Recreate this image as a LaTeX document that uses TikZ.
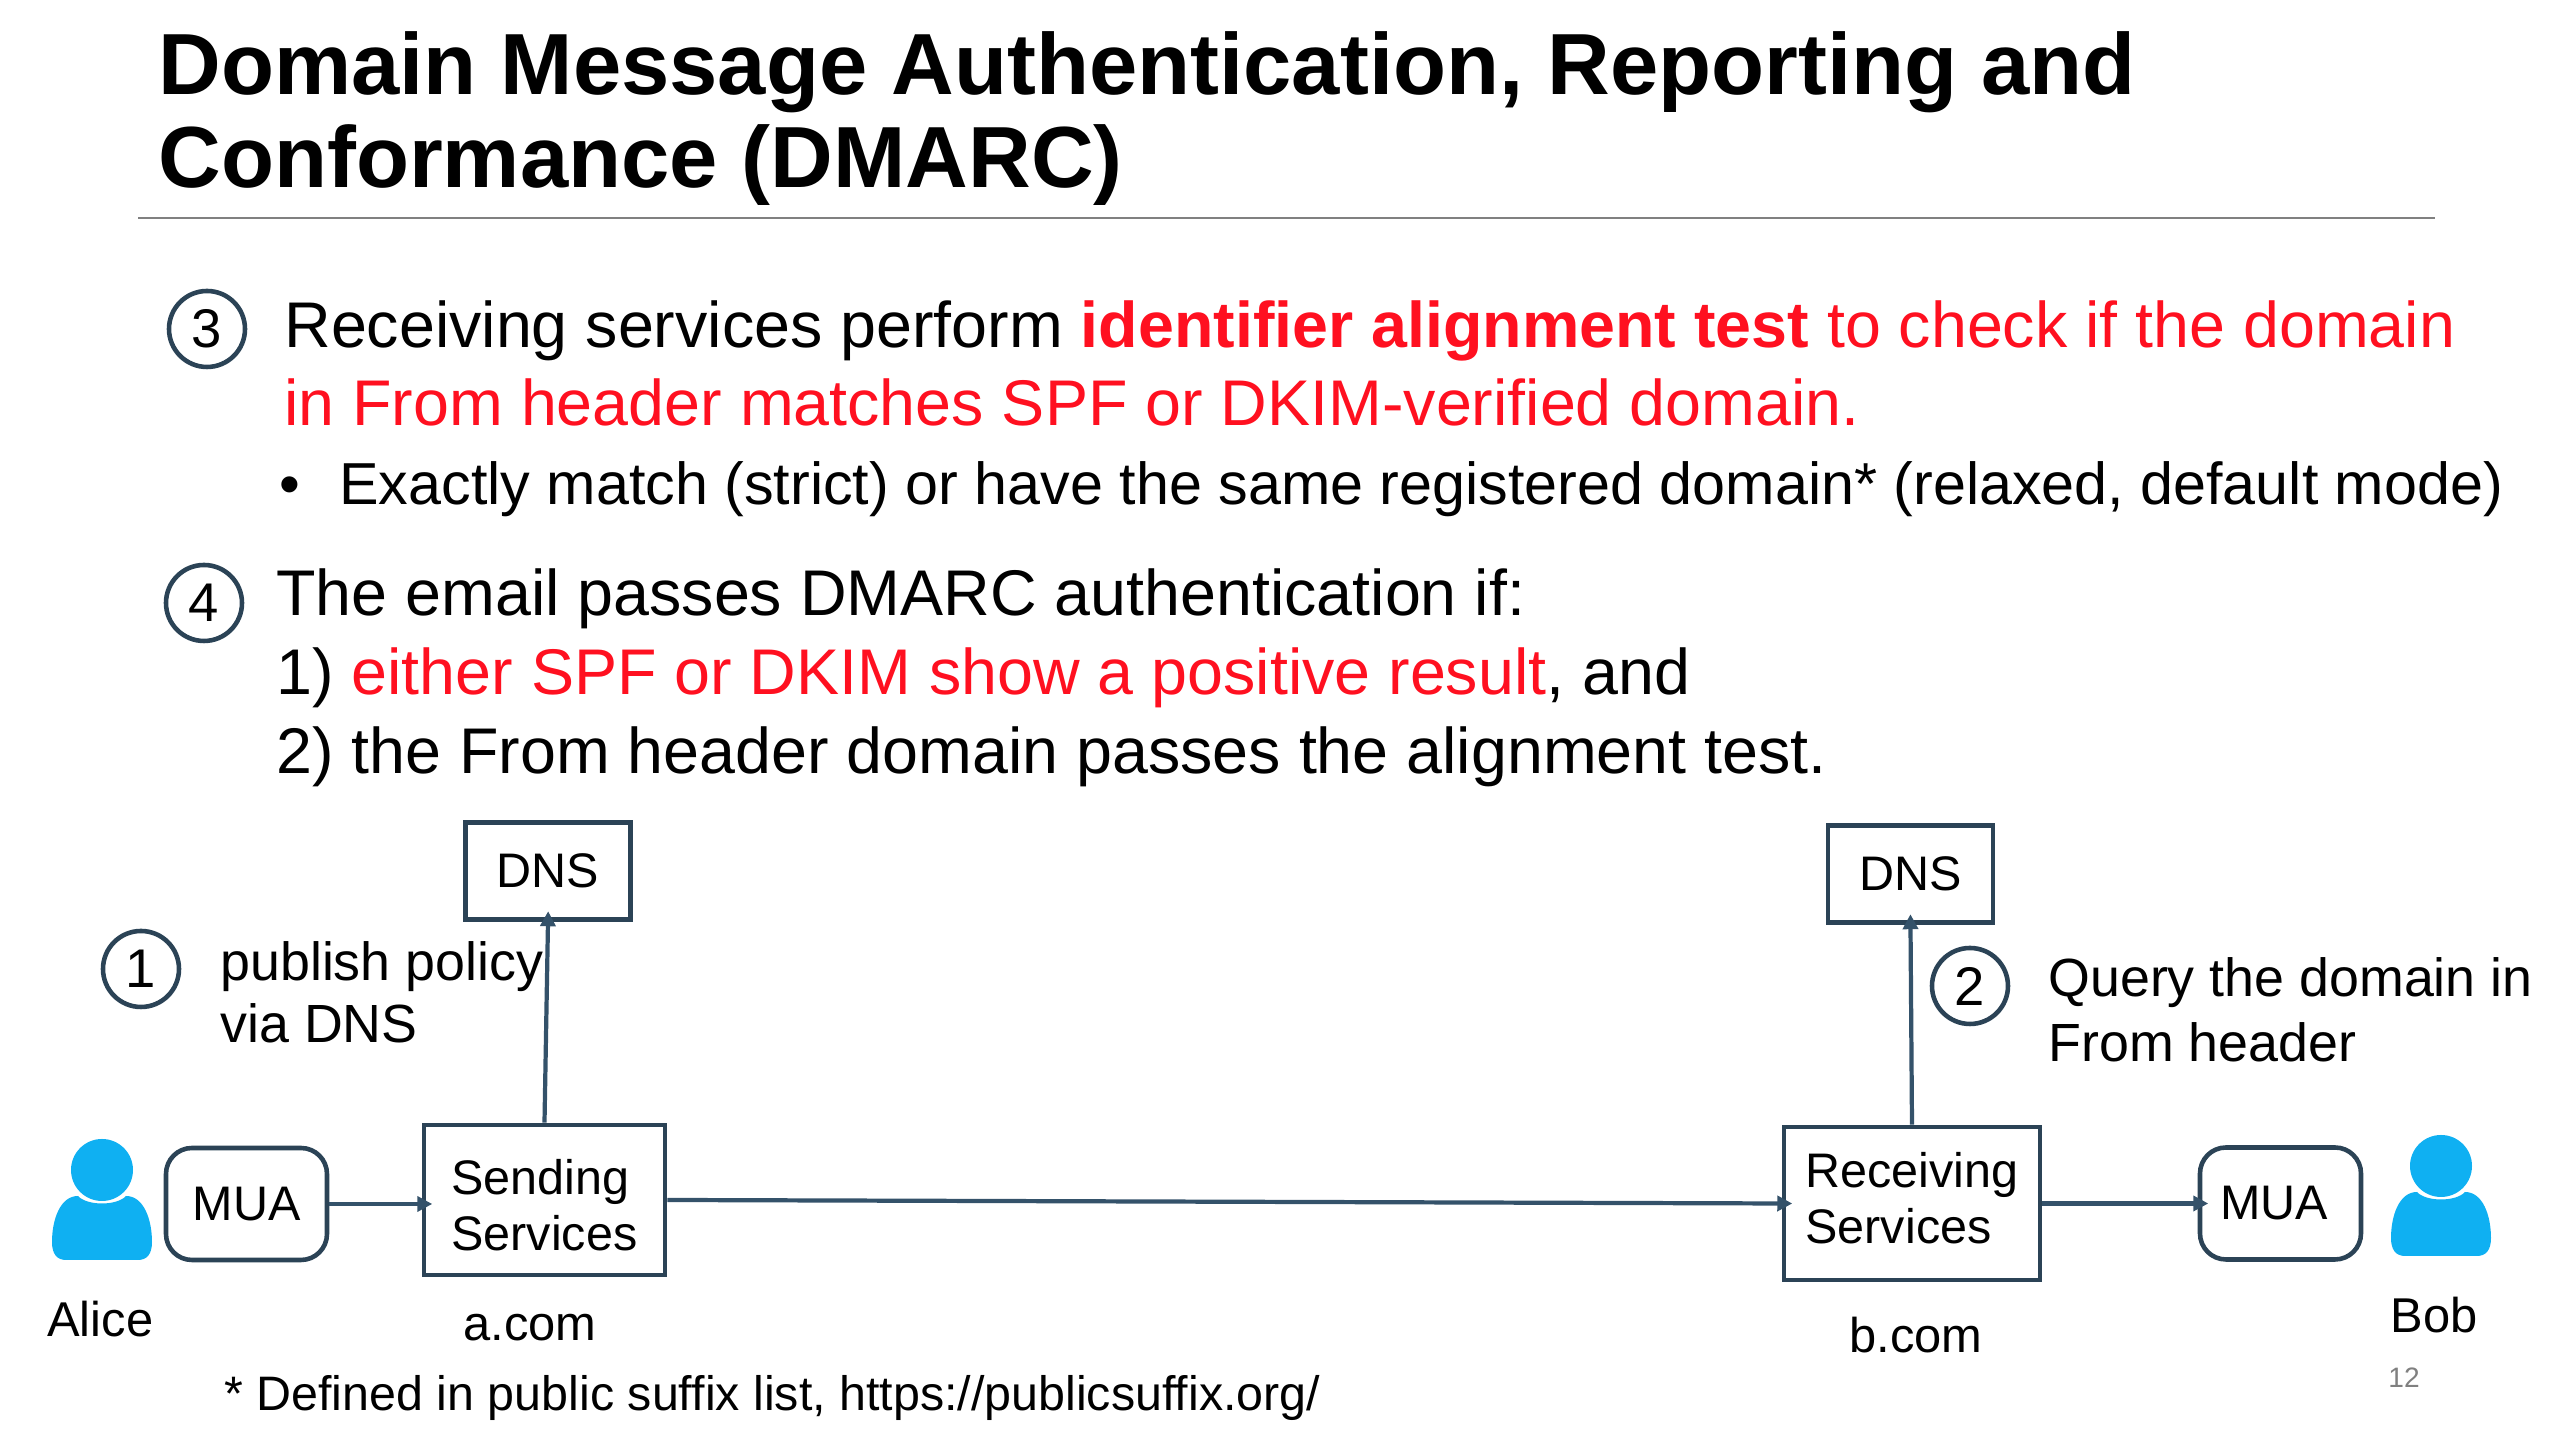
\documentclass[tikz,border=0pt]{standalone}
\usepackage{fontspec}
\setmainfont{Liberation Sans}
\usepackage{tikz}
\usetikzlibrary{arrows.meta}
\definecolor{line-blue}{HTML}{2B4356}
\definecolor{arrow-blue}{HTML}{34526A}
\definecolor{alert-red}{HTML}{FF1020}
\definecolor{person-blue}{HTML}{0FB0F2}
\definecolor{rule-gray}{HTML}{808080}
\tikzset{
every picture/.style={line width=0.8pt, >={Triangle[length=1.5mm,width=1.5mm]}},
%%%%%%%%%%  Node styles
title_text/.style={anchor=base west, inner sep=0pt, font=\fontsize{24.7}{28}\selectfont\bfseries},
body_text/.style={anchor=base west, inner sep=0pt, font=\fontsize{18.37}{22}\selectfont},
bullet_text/.style={anchor=base west, inner sep=0pt, font=\fontsize{16.86}{20}\selectfont},
small_text/.style={anchor=base west, inner sep=0pt, font=\fontsize{15.3}{18}\selectfont},
label_text/.style={anchor=base west, inner sep=0pt, font=\fontsize{13.9}{16}\selectfont},
step_circle/.style={circle, draw=line-blue, line width=1.3pt, fill=white, minimum size=0.76cm,
                    inner sep=0pt, font=\fontsize{15.5}{18}\selectfont},
%%%% boxes of the mail path
service_box/.style={rectangle, draw=line-blue, line width=1.3pt, align=left, inner sep=0pt,
                    font=\fontsize{13.8}{16}\selectfont},
mua_box/.style={service_box, rounded corners=2.6mm, minimum width=1.61cm, minimum height=1.12cm},
dns_box/.style={service_box, minimum width=1.65cm, minimum height=0.97cm},
%%%% connectors
flow/.style={->, draw=arrow-blue, line width=1.2pt, shorten >=-3pt},
person/.style={fill=person-blue, draw=none},
}
\begin{document}
\begin{tikzpicture}
\useasboundingbox (0,0) rectangle (25.56,14.38);
%% title
\node[title_text] (title1) at (1.57,13.43) {Domain Message Authentication, Reporting and};
\node[title_text] (title2) at (1.57,12.50) {Conformance (DMARC)};
\coordinate (ruleL) at (1.38,12.20);
\coordinate (ruleR) at (24.35,12.20);
\draw[rule-gray, line width=0.8pt] (ruleL) -- (ruleR);
%% step 3
\node[step_circle] (s3) at (2.07,11.09) {3};
\node[body_text] (t3a) at (2.83,10.90) {Receiving services perform \textcolor{alert-red}{\textbf{identifier alignment test} to check if the domain}};
\node[body_text, text=alert-red] (t3b) at (2.83,10.12) {in From header matches SPF or DKIM-verified domain.};
\node[bullet_text] (t3c) at (2.78,9.33) {•};
\node[bullet_text] (t3d) at (3.38,9.33) {Exactly match (strict) or have the same registered domain* (relaxed, default mode)};
%% step 4
\node[step_circle] (s4) at (2.04,8.35) {4};
\node[body_text] (t4a) at (2.75,8.22) {The email passes DMARC authentication if:};
\node[body_text] (t4b) at (2.75,7.43) {1) \textcolor{alert-red}{either SPF or DKIM show a positive result}, and};
\node[body_text] (t4c) at (2.75,6.64) {2) the From header domain passes the alignment test.};
%%%%%%%%%%%%%%%%%%%%%%%%%%%%%%%%%%%%%%%%%%%%%%%%%%%%%%%
%% sender side
\node[dns_box] (dnsA) at (5.48,5.67) {DNS};
\node[service_box, minimum width=2.41cm, minimum height=1.50cm] (sending) at (5.445,2.38) {\rule{0pt}{13pt}Sending\\Services};
\node[mua_box] (muaA) at (2.465,2.34) {MUA};
\node[step_circle] (s1) at (1.41,4.69) {1};
\node[small_text] (t1a) at (2.19,4.57) {publish policy};
\node[small_text] (t1b) at (2.19,3.95) {via DNS};
\node[label_text] (alice) at (0.46,1.01) {Alice};
\node[label_text] (acom) at (4.62,0.97) {a.com};
%% receiver side
\node[dns_box] (dnsB) at (19.105,5.64) {DNS};
\node[service_box, minimum width=2.56cm, minimum height=1.53cm] (receiving) at (19.12,2.345) {Receiving\\Services\rule[-3pt]{0pt}{0pt}};
\node[mua_box] (muaB) at (22.805,2.345) {MUA\kern3.7pt};
\node[step_circle] (s2) at (19.70,4.52) {2};
\node[small_text] (t2a) at (20.47,4.41) {Query the domain in};
\node[small_text] (t2b) at (20.47,3.76) {From header};
\node[label_text] (bob) at (23.89,1.05) {Bob};
\node[label_text] (bcom) at (18.48,0.85) {b.com};
%% connectors
\draw[flow] (muaA.east) -- (sending.west |- muaA.east);
\draw[flow] (sending.east) -- (receiving.west);
\draw[flow] (receiving.east) -- (muaB.west);
\draw[flow] (sending.north) -- (dnsA.south);
\draw[flow] (receiving.north) -- (dnsB.south);
%%%% person icons
\begin{scope}[shift={(1.02,2.68)}]
\fill[person] (0,0) ellipse (0.31 and 0.31);
\fill[person] (-0.24,-0.26) .. controls (-0.15,-0.36) and (0.15,-0.36) .. (0.24,-0.26)
	.. controls (0.42,-0.26) and (0.50,-0.50) .. (0.50,-0.72)
	.. controls (0.50,-0.84) and (0.45,-0.90) .. (0.36,-0.90)
	-- (-0.36,-0.90)
	.. controls (-0.45,-0.90) and (-0.50,-0.84) .. (-0.50,-0.72)
	.. controls (-0.50,-0.50) and (-0.42,-0.26) .. (-0.24,-0.26) -- cycle;
\end{scope}
\begin{scope}[shift={(24.41,2.72)}]
\fill[person] (0,0) ellipse (0.31 and 0.31);
\fill[person] (-0.24,-0.26) .. controls (-0.15,-0.36) and (0.15,-0.36) .. (0.24,-0.26)
	.. controls (0.42,-0.26) and (0.50,-0.50) .. (0.50,-0.72)
	.. controls (0.50,-0.84) and (0.45,-0.90) .. (0.36,-0.90)
	-- (-0.36,-0.90)
	.. controls (-0.45,-0.90) and (-0.50,-0.84) .. (-0.50,-0.72)
	.. controls (-0.50,-0.50) and (-0.42,-0.26) .. (-0.24,-0.26) -- cycle;
\end{scope}
%% footnote and page number
\node[label_text, font=\fontsize{13.77}{16}\selectfont] (note) at (2.23,0.27) {* Defined in public suffix list, https://publicsuffix.org/};
\node[anchor=base west, inner sep=0pt, text=rule-gray, font=\fontsize{8}{10}\selectfont] (page) at (23.87,0.50) {12};
\end{tikzpicture}
\end{document}
